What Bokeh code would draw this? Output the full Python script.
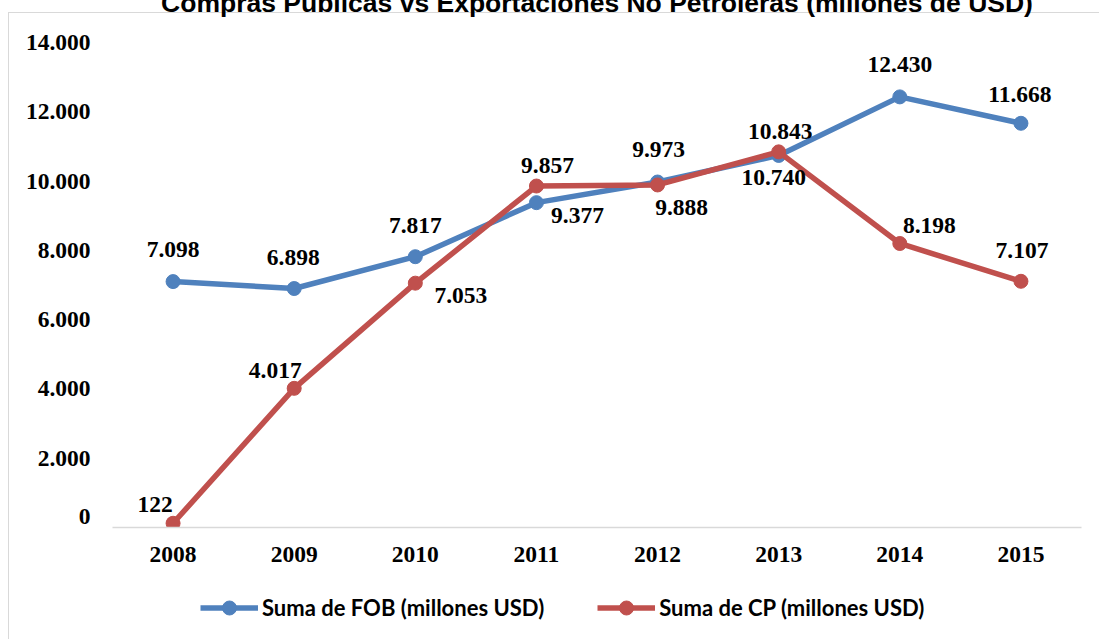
from bokeh.plotting import figure
from bokeh.layouts import column
from bokeh.models import (FactorRange, Range1d, FixedTicker, ColumnDataSource,
                          Legend, LegendItem)
from bokeh.embed import file_html
from bokeh.resources import INLINE
from bokeh.core.properties import value

# ---------------- data ----------------
years = ["2008", "2009", "2010", "2011", "2012", "2013", "2014", "2015"]
fob = [7098, 6898, 7817, 9377, 9973, 10740, 12430, 11668]
cp = [122, 4017, 7053, 9857, 9888, 10843, 8198, 7107]
y_ticks = [0, 2000, 4000, 6000, 8000, 10000, 12000, 14000]
title_text = "Compras Públicas vs Exportaciones No Petroleras (millones de USD)"
fob_name = "Suma de FOB (millones USD)"
cp_name = "Suma de CP (millones USD)"

# label offsets (pixels) for the data labels
fob_dx = [0, -1, 0, 41, 1, -5, 0, -1]
fob_dy = [-32, -31.5, -31.5, 13, -33, 22.5, -32, -29]
cp_dx = [-18, -19, 45.5, 11, 24, 1.5, 29.5, 1]
cp_dy = [-18.5, -17.5, 12.5, -20.5, 23, -20.5, -18, -31]


def fmt(v):
    return f"{v:,}".replace(",", ".")


BLUE = "#4f81bd"
RED = "#c0504d"
GRAY = "#d9d9d9"
SERIF = "Liberation Serif"
LABEL_SIZE = "23.5px"
K = 40          # page is shifted up by K px so that the title's top is cut, as in the original
MAIN_H = 583    # visible height of the chart part
LEG_H = 56      # height of the legend strip

p = figure(width=1099, height=MAIN_H + K,
           x_range=FactorRange(factors=years, range_padding=0),
           y_range=Range1d(0, 14000), output_backend="svg", toolbar_location=None,
           min_border_left=112, min_border_right=18, min_border_top=42 + K,
           min_border_bottom=MAIN_H - 527)

p.styles = {
    "background": f"linear-gradient({GRAY},{GRAY}) 8px {12 + K}px / 100% 1px no-repeat, "
                  f"linear-gradient({GRAY},{GRAY}) 8px {12 + K}px / 1px 100% no-repeat, #ffffff",
}
p.border_fill_color = None
p.background_fill_color = "white"
p.outline_line_color = None
p.xgrid.visible = False
p.ygrid.visible = False

# title
p.title.text = title_text
p.title.align = "center"
p.title.vertical_align = "top"
p.title.standoff = 45
p.title.text_font = "Liberation Sans"
p.title.text_font_style = "bold"
p.title.text_font_size = "26.5px"
p.title.text_color = "black"

# y axis ("0" label sits a little above the axis line, as in the original)
zero_pos = 317
p.yaxis.ticker = FixedTicker(ticks=[zero_pos] + y_ticks[1:])
overrides = {t: fmt(t) for t in y_ticks[1:]}
overrides[zero_pos] = fmt(y_ticks[0])
p.yaxis.major_label_overrides = overrides
p.yaxis.axis_line_color = None
p.yaxis.major_tick_line_color = None
p.yaxis.minor_tick_line_color = None
p.yaxis.major_tick_out = 0
p.yaxis.major_label_standoff = 22
p.yaxis.major_label_text_font = SERIF
p.yaxis.major_label_text_font_style = "bold"
p.yaxis.major_label_text_font_size = LABEL_SIZE
p.yaxis.major_label_text_color = "black"

# x axis
p.xaxis.axis_line_color = GRAY
p.xaxis.axis_line_width = 1.5
p.xaxis.major_tick_line_color = None
p.xaxis.minor_tick_line_color = None
p.xaxis.major_tick_out = 0
p.xaxis.major_label_standoff = 19
p.xaxis.major_label_text_font = SERIF
p.xaxis.major_label_text_font_style = "bold"
p.xaxis.major_label_text_font_size = LABEL_SIZE
p.xaxis.major_label_text_color = "black"

src_fob = ColumnDataSource(dict(x=years, y=fob, label=[fmt(v) for v in fob], dx=fob_dx, dy=fob_dy))
src_cp = ColumnDataSource(dict(x=years, y=cp, label=[fmt(v) for v in cp], dx=cp_dx, dy=cp_dy))

p.line("x", "y", source=src_fob, line_color=BLUE, line_width=5.5)
p.scatter("x", "y", source=src_fob, size=14, fill_color=BLUE, line_color=BLUE)
p.line("x", "y", source=src_cp, line_color=RED, line_width=5.5)
p.scatter("x", "y", source=src_cp, size=14, fill_color=RED, line_color=RED)

for src in (src_fob, src_cp):
    p.text("x", "y", text="label", source=src, x_offset="dx", y_offset="dy",
           text_font=value(SERIF), text_font_style="bold", text_font_size=LABEL_SIZE,
           text_color="black", text_align="center", text_baseline="middle")

# ---------------- legend strip ----------------
q = figure(width=1099, height=LEG_H, x_range=Range1d(0, 1), y_range=Range1d(0, 1),
           x_axis_type=None, y_axis_type=None, output_backend="svg", toolbar_location=None,
           min_border=0, min_border_left=0, min_border_right=0, min_border_top=0,
           min_border_bottom=0)
q.styles = {"background": f"linear-gradient({GRAY},{GRAY}) 8px 0px / 1px 100% no-repeat, #ffffff"}
q.border_fill_color = None
q.background_fill_color = None
q.outline_line_color = None
q.xgrid.visible = False
q.ygrid.visible = False

# legend-only renderers (no visible points)
nan = float("nan")
blank = ColumnDataSource(dict(x=[nan], y=[nan]))
ql1 = q.line("x", "y", source=blank, line_color=BLUE, line_width=5.5)
qs1 = q.scatter("x", "y", source=blank, size=14, fill_color=BLUE, line_color=BLUE)
ql2 = q.line("x", "y", source=blank, line_color=RED, line_width=5.5)
qs2 = q.scatter("x", "y", source=blank, size=14, fill_color=RED, line_color=RED)

legend = Legend(items=[LegendItem(label=fob_name, renderers=[ql1, qs1]),
                       LegendItem(label=cp_name, renderers=[ql2, qs2])],
                orientation="horizontal", location=(88, 14.5),
                glyph_width=58, glyph_height=35, label_height=35, label_standoff=4,
                spacing=53, padding=0, margin=0,
                border_line_color=None, background_fill_alpha=0,
                label_text_font="Lato", label_text_font_style="bold",
                label_text_font_size="22px", label_text_color="black")
q.add_layout(legend, "center")

layout = column(p, q, spacing=0)
layout.styles = {"margin-top": f"-{K}px"}

open("out.html", "w").write(file_html(layout, INLINE))
